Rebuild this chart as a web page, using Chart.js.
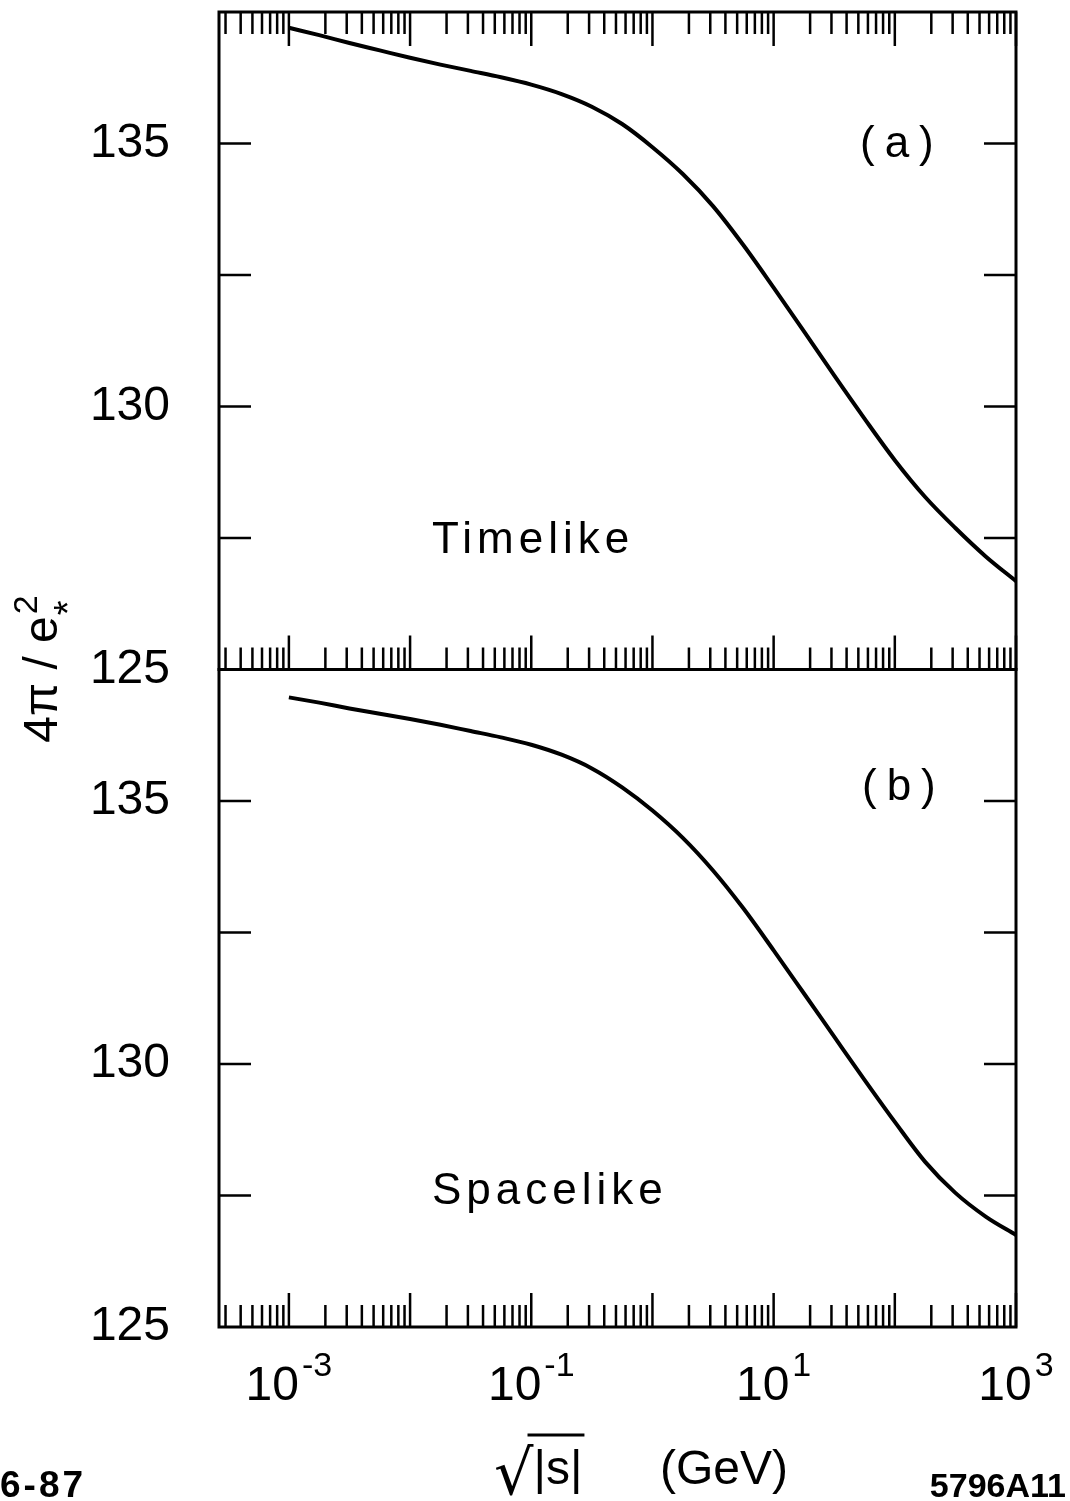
<!DOCTYPE html>
<html>
<head>
<meta charset="utf-8">
<script src="https://cdn.jsdelivr.net/npm/chart.js@4.4.1/dist/chart.umd.min.js"></script>
<style>
  body { margin: 0; background: #fff; }
  #wrap { width: 1070px; height: 1501px; }
</style>
</head>
<body>
<div id="wrap"><canvas id="myChart" width="1070" height="1501"></canvas></div>
<script>
// sqrt|s| in GeV, quarter decades
const energy = [0.001, 0.00178, 0.00316, 0.00562, 0.01, 0.0178, 0.0316, 0.0562, 0.1, 0.178, 0.316, 0.562,
                1, 1.78, 3.16, 5.62, 10, 17.8, 31.6, 56.2, 100, 178, 316, 562, 1000];
// 4pi/e*^2, panel (a) timelike
const timelike = [137.2, 137.06, 136.91, 136.77, 136.63, 136.5, 136.38, 136.26, 136.12, 135.94, 135.7, 135.37,
                  134.93, 134.42, 133.81, 133.07, 132.26, 131.43, 130.59, 129.77, 128.98, 128.28, 127.69, 127.15, 126.68];
// panel (b) spacelike
const spacelike = [136.97, 136.87, 136.76, 136.66, 136.56, 136.45, 136.33, 136.21, 136.07, 135.88, 135.62, 135.26,
                   134.82, 134.3, 133.68, 132.96, 132.16, 131.34, 130.52, 129.7, 128.9, 128.14, 127.55, 127.1, 126.75];

const xLabelValues = [1e-3, 1e-1, 1e1, 1e3];
const xLabelExps = ['-3', '-1', '1', '3'];
const yLabelValues = [125, 130, 135];
const yTickValues = [127.5, 130, 132.5, 135];

Chart.defaults.font.family = "'Liberation Sans', Arial, sans-serif";
Chart.defaults.color = '#000';

function toPoints(xs, ys) {
  return xs.map((v, i) => ({x: v, y: ys[i]}));
}

function noPad(s) {
  s.paddingTop = 0; s.paddingBottom = 0;
  s.paddingLeft = 0; s.paddingRight = 0;
}

// frame, inward ticks and the loose texts
const framePlugin = {
  id: 'framePlugin',
  afterDraw(chart) {
    const ctx = chart.ctx;
    const x = chart.scales.x, yA = chart.scales.yA, yB = chart.scales.yB;
    ctx.save();
    ctx.strokeStyle = '#000';
    ctx.fillStyle = '#000';
    ctx.lineWidth = 3;
    [yA, yB].forEach(function(y){
      ctx.strokeRect(x.left, y.top, x.right - x.left, y.bottom - y.top);
    });

    // log ticks on x
    ctx.lineWidth = 2.5;
    const edges = [[yA.top, 1], [yA.bottom, -1], [yB.bottom, -1]];
    for (let d = -4; d <= 3; d++) {
      for (let k = 1; k <= 9; k++) {
        const v = k * Math.pow(10, d);
        if (v < x.min * 0.999 || v > x.max * 1.001) continue;
        const px = x.getPixelForValue(v);
        const len = k === 1 ? 34 : 22;
        edges.forEach(function(e){
          ctx.beginPath();
          ctx.moveTo(px, e[0]);
          ctx.lineTo(px, e[0] + e[1] * len);
          ctx.stroke();
        });
      }
    }
    // y ticks both sides
    [yA, yB].forEach(function(y){
      yTickValues.forEach(function(v){
        const py = y.getPixelForValue(v);
        ctx.beginPath();
        ctx.moveTo(x.left, py); ctx.lineTo(x.left + 32, py);
        ctx.moveTo(x.right, py); ctx.lineTo(x.right - 32, py);
        ctx.stroke();
      });
    });

    // x tick labels 10^n
    ctx.textBaseline = 'alphabetic';
    ctx.textAlign = 'left';
    xLabelValues.forEach(function(v, i){
      const px = x.getPixelForValue(v);
      ctx.font = "48px 'Liberation Sans'";
      const wBase = ctx.measureText('10').width;
      ctx.font = "34px 'Liberation Sans'";
      const wExp = ctx.measureText(xLabelExps[i]).width;
      const left = px - (wBase + wExp + 3) / 2;
      ctx.font = "48px 'Liberation Sans'";
      ctx.fillText('10', left, 1400);
      ctx.font = "34px 'Liberation Sans'";
      ctx.fillText(xLabelExps[i], left + wBase + 3, 1376);
    });

    // panel texts
    ctx.font = "44px 'Liberation Sans'";
    ctx.letterSpacing = '10px';
    ctx.fillText('(a)', 860, 157);
    ctx.fillText('(b)', 862, 800);
    ctx.letterSpacing = '5px';
    ctx.fillText('Timelike', 432, 553);
    ctx.fillText('Spacelike', 432, 1204);
    ctx.letterSpacing = '0px';

    // y title, rotated
    ctx.save();
    ctx.translate(57, 670);
    ctx.rotate(-Math.PI / 2);
    ctx.font = "48px 'Liberation Sans'";
    const main = '4π / e';
    const wMain = ctx.measureText(main).width;
    ctx.font = "34px 'Liberation Sans'";
    const wSup = ctx.measureText('2').width;
    const start = -(wMain + wSup) / 2;
    ctx.font = "48px 'Liberation Sans'";
    ctx.fillText(main, start, 0);
    ctx.font = "34px 'Liberation Sans'";
    ctx.fillText('2', start + wMain + 2, -20);
    ctx.font = "38px 'Liberation Sans'";
    ctx.fillText('*', start + wMain + 1, 24);
    ctx.restore();

    // x title: sqrt|s|  (GeV)
    ctx.font = "62px 'DejaVu Sans'";
    ctx.fillText('√', 494, 1494);
    const wRoot = ctx.measureText('√').width;
    ctx.font = "48px 'Liberation Sans'";
    ctx.fillText('|s|', 494 + wRoot, 1484);
    const wAbs = ctx.measureText('|s|').width;
    ctx.lineWidth = 3;
    ctx.beginPath();
    ctx.moveTo(494 + wRoot - 6, 1435);
    ctx.lineTo(494 + wRoot + wAbs + 2, 1435);
    ctx.stroke();
    ctx.fillText('(GeV)', 660, 1484);

    // corner codes
    ctx.font = "bold 37px 'Liberation Sans'";
    ctx.letterSpacing = '3px';
    ctx.fillText('6-87', 0, 1497);
    ctx.font = "bold 34px 'Liberation Sans'";
    ctx.letterSpacing = '0px';
    ctx.textAlign = 'right';
    ctx.fillText('5796A11', 1066, 1497);
    ctx.restore();
  }
};

let ctx = document.getElementById('myChart');
let myChart = new Chart(ctx, {
  type: 'line',
  data: {
    datasets: [{
      label: 'Timelike',
      data: toPoints(energy, timelike),
      yAxisID: 'yA',
      borderColor: '#000',
      borderWidth: 4,
      pointRadius: 0,
      cubicInterpolationMode: 'monotone',
      fill: false
    }, {
      label: 'Spacelike',
      data: toPoints(energy, spacelike),
      yAxisID: 'yB',
      borderColor: '#000',
      borderWidth: 4,
      pointRadius: 0,
      cubicInterpolationMode: 'monotone',
      fill: false
    }]
  },
  options: {
    responsive: false,
    animation: false,
    devicePixelRatio: 1,
    layout: { padding: { left: 0, right: 54, top: 12, bottom: 0 } },
    plugins: {
      legend: { display: false },
      tooltip: { enabled: false }
    },
    scales: {
      x: {
        type: 'logarithmic',
        position: 'bottom',
        bounds: 'data',
        min: 2.65e-4,
        max: 1000,
        grid: { display: false, drawTicks: false },
        border: { display: false },
        afterBuildTicks: function(s){
          s.ticks = xLabelValues.map(v => ({value: v}));
        },
        afterFit: function(s){ s.height = 174; noPad(s); },
        ticks: { display: false }
      },
      yB: {
        type: 'linear',
        position: 'left',
        stack: 'panels',
        stackWeight: 1,
        weight: 1,
        min: 125,
        max: 137.5,
        grid: { display: false, drawTicks: false },
        border: { display: false },
        afterBuildTicks: function(s){
          s.ticks = yLabelValues.map(v => ({value: v}));
        },
        afterFit: function(s){ s.width = 219; noPad(s); },
        ticks: { font: { size: 48 }, color: '#000', padding: 49 }
      },
      yA: {
        type: 'linear',
        position: 'left',
        stack: 'panels',
        stackWeight: 1,
        weight: 2,
        min: 125,
        max: 137.5,
        grid: { display: false, drawTicks: false },
        border: { display: false },
        afterBuildTicks: function(s){
          s.ticks = yLabelValues.map(v => ({value: v}));
        },
        afterFit: function(s){ s.width = 219; noPad(s); },
        ticks: { font: { size: 48 }, color: '#000', padding: 49 }
      }
    }
  },
  plugins: [framePlugin]
});
</script>
</body>
</html>
